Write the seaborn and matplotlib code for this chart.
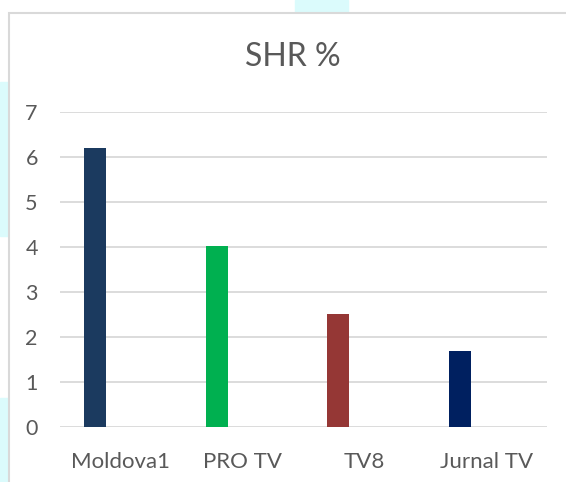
import matplotlib
matplotlib.use("Agg")
import matplotlib.pyplot as plt
import matplotlib.patches as mpatches
import seaborn as sns
import pandas as pd

channels = ["Moldova1", "PRO TV", "TV8", "Jurnal TV"]
shr = [6.2, 4.02, 2.51, 1.69]
colors = ["#1B3A5F", "#00B050", "#953735", "#002060"]
yticks = [0, 1, 2, 3, 4, 5, 6, 7]
title = "SHR %"

sns.set_theme(style="white")
plt.rcParams["font.family"] = ["Lato", "DejaVu Sans"]

df = pd.DataFrame({"channel": channels, "shr": shr})

W, H = 566, 482
fig = plt.figure(figsize=(W / 100, H / 100), dpi=100)
fig.patch.set_facecolor("white")

# background artifacts (light cyan patches) and chart border
cyan = "#DBFBFC"
fig.patches.append(mpatches.Rectangle((295 / W, 1 - 13 / H), 53 / W, 13 / H,
                                      transform=fig.transFigure, color=cyan, zorder=-2))
fig.patches.append(mpatches.Rectangle((0, 1 - 236 / H), 8 / W, 154 / H,
                                      transform=fig.transFigure, color=cyan, zorder=-2))
fig.patches.append(mpatches.Rectangle((0, 0), 8 / W, (H - 398) / H,
                                      transform=fig.transFigure, color=cyan, zorder=-2))
fig.patches.append(mpatches.Rectangle((9 / W, -0.05), 1.1, 1 - 13 / H + 0.05,
                                      transform=fig.transFigure, facecolor="white",
                                      edgecolor="#D9D9D9", lw=1.5, zorder=-1))

ax = fig.add_axes([60 / W, 1 - 427 / H, 487 / W, 315 / H])
ax.set_facecolor("none")
sns.barplot(data=df, x="channel", y="shr", hue="channel", palette=colors,
            width=0.18, dodge=False, legend=False, saturation=1, ax=ax)
for p in ax.patches:
    p.set_x(p.get_x() - 0.214)
    p.set_linewidth(0)

ax.set_ylim(0, 7)
ax.set_xlim(-0.5, len(channels) - 0.5)
ax.set_yticks(yticks)
ax.yaxis.grid(True, color="#D9D9D9", lw=1.3)
ax.set_axisbelow(True)
for s in ax.spines.values():
    s.set_visible(False)
ax.set_xlabel("")
ax.set_ylabel("")
ax.tick_params(axis="y", length=0, pad=16, labelsize=15.5, labelcolor="#595959")
ax.tick_params(axis="x", length=0, pad=18, labelsize=16, labelcolor="#595959")

fig.text(293 / W, 1 - 57 / H, title, ha="center", va="center",
         fontsize=23, color="#595959")

fig.savefig("out.png", dpi=100)
